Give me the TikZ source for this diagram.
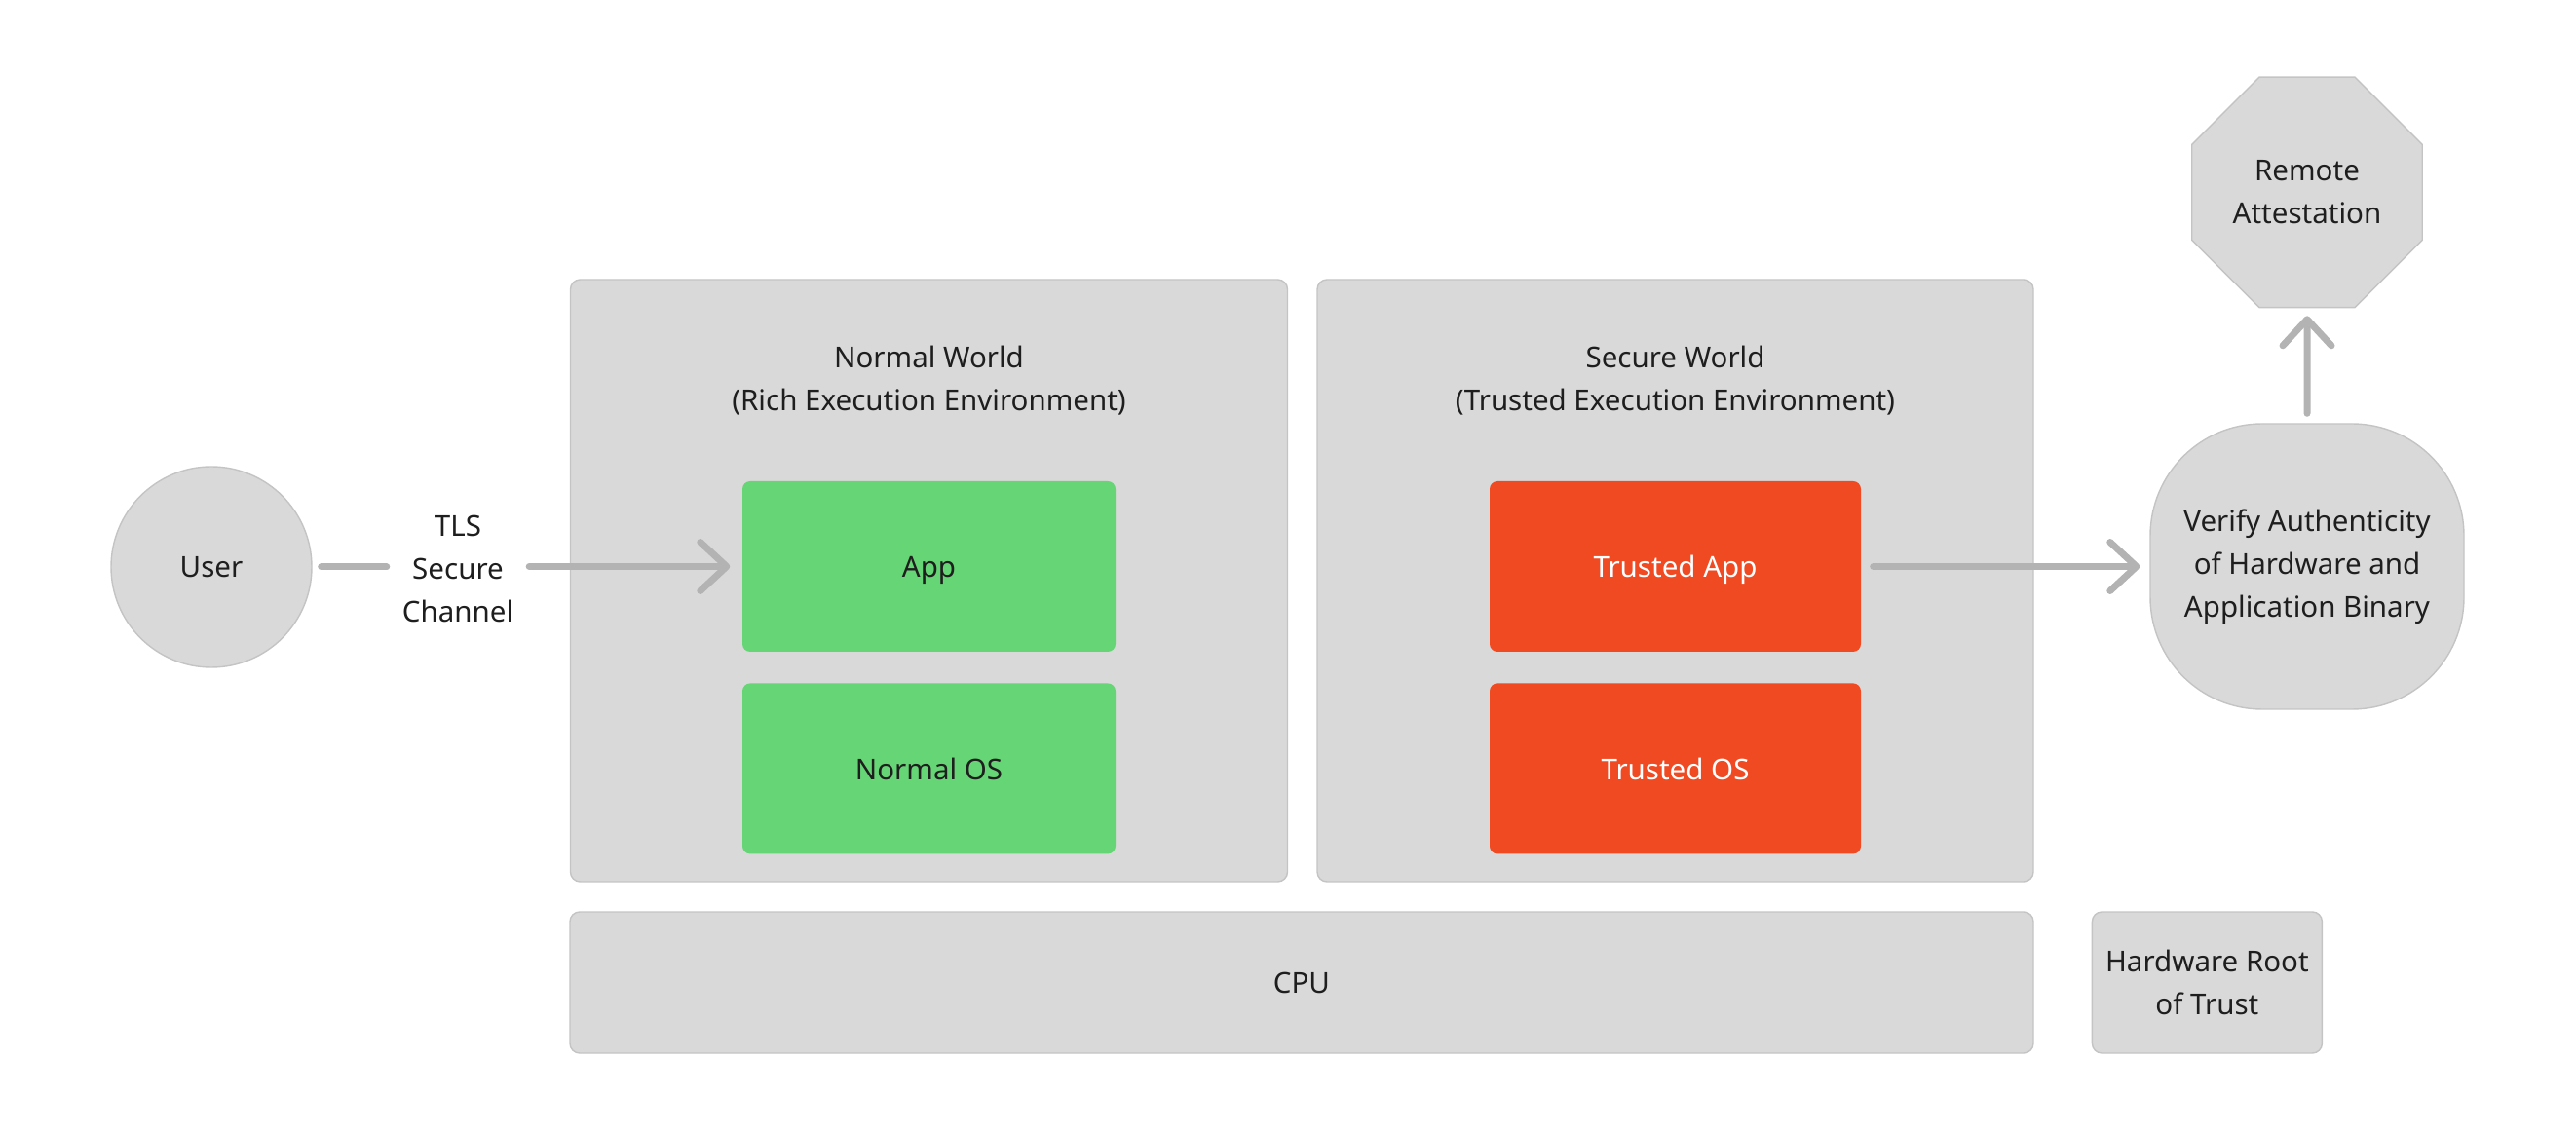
\documentclass[tikz,border=0pt]{standalone}
\usepackage{fontspec}
\setmainfont{Noto Sans}
\usetikzlibrary{shapes.geometric, arrows.meta, positioning}

\definecolor{boxgray}{HTML}{D9D9D9}
\definecolor{edgegray}{HTML}{C4C4C4}
\definecolor{linegray}{HTML}{B3B3B3}
\definecolor{appgreen}{HTML}{66D575}
\definecolor{trustred}{HTML}{F04A23}
\definecolor{textdark}{HTML}{1E1E1E}

\begin{document}
\begin{tikzpicture}[
  font=\fontsize{8.4}{12.5}\selectfont,
  text=textdark,
  node distance=0.31cm and 1.0cm,
  world/.style={rectangle, rounded corners=0.1cm, draw=edgegray, fill=boxgray, line width=0.4pt, minimum width=7.36cm, minimum height=6.18cm},
  title/.style={align=center, inner sep=0pt},
  normalbox/.style={rectangle, rounded corners=0.08cm, fill=appgreen, minimum width=3.83cm, minimum height=1.75cm, text depth=0pt},
  trustbox/.style={rectangle, rounded corners=0.08cm, fill=trustred, text=white, minimum width=3.81cm, minimum height=1.75cm, text depth=0pt},
  hwbox/.style={rectangle, rounded corners=0.1cm, draw=edgegray, fill=boxgray, line width=0.4pt, minimum height=1.45cm, align=center},
  user/.style={circle, draw=edgegray, fill=boxgray, line width=0.4pt, minimum size=2.06cm},
  verify/.style={rectangle, rounded corners=1.15cm, draw=edgegray, fill=boxgray, line width=0.4pt, minimum width=3.22cm, minimum height=2.93cm, align=center},
  octagon/.style={regular polygon, regular polygon sides=8, draw=edgegray, fill=boxgray, line width=0.4pt, minimum size=2.56cm, inner sep=0pt, align=center},
  chanlabel/.style={align=center, inner sep=0pt, minimum width=1.45cm},
  link/.style={draw=linegray, line width=0.07cm, line cap=round},
  arrow/.style={link, -{Straight Barb[length=0.27cm, width=0.5cm, round]}}
]

\useasboundingbox (0,0) rectangle (26.44,11.63);

% Worlds
\node[world] (normal) at (9.535,5.67) {};
\node[world, minimum width=7.35cm] (secure) at (17.195,5.67) {};
\node[title] (normaltitle) at (9.535,7.72) {Normal World\\(Rich Execution Environment)};
\node[title] (securetitle) at (17.195,7.72) {Secure World\\(Trusted Execution Environment)};

% Inner boxes
\node[normalbox] (app) at (9.535,5.815) {App};
\node[normalbox, below=of app] (normalos) {Normal OS};
\node[trustbox] (trustedapp) at (17.195,5.815) {Trusted App};
\node[trustbox, below=of trustedapp] (trustedos) {Trusted OS};

% Hardware
\node[hwbox, minimum width=15.02cm] (cpu) at (13.36,1.545) {CPU};
\node[hwbox, right=0.59cm of cpu, minimum width=2.36cm] (hwroot) {Hardware Root\\of Trust};

% Outside
\node[user] (user) at (2.17,5.81) {User};
\node[chanlabel] (tls) at (4.70,5.79) {TLS\\Secure\\Channel};
\node[verify] (verify) at (23.68,5.815) {Verify Authenticity\\of Hardware and\\Application Binary};
\node[octagon, above=1.18cm of verify] (remote) {Remote\\Attestation};

% Arrows
\draw[link, shorten <=0.09cm] (user) -- (user -| tls.west);
\draw[arrow, shorten >=0.12cm] (tls.east |- app) -- (app);
\draw[arrow, shorten <=0.12cm, shorten >=0.1cm] (trustedapp) -- (verify);
\draw[arrow, shorten <=0.1cm, shorten >=0.08cm] (verify) -- (remote);

\end{tikzpicture}
\end{document}
